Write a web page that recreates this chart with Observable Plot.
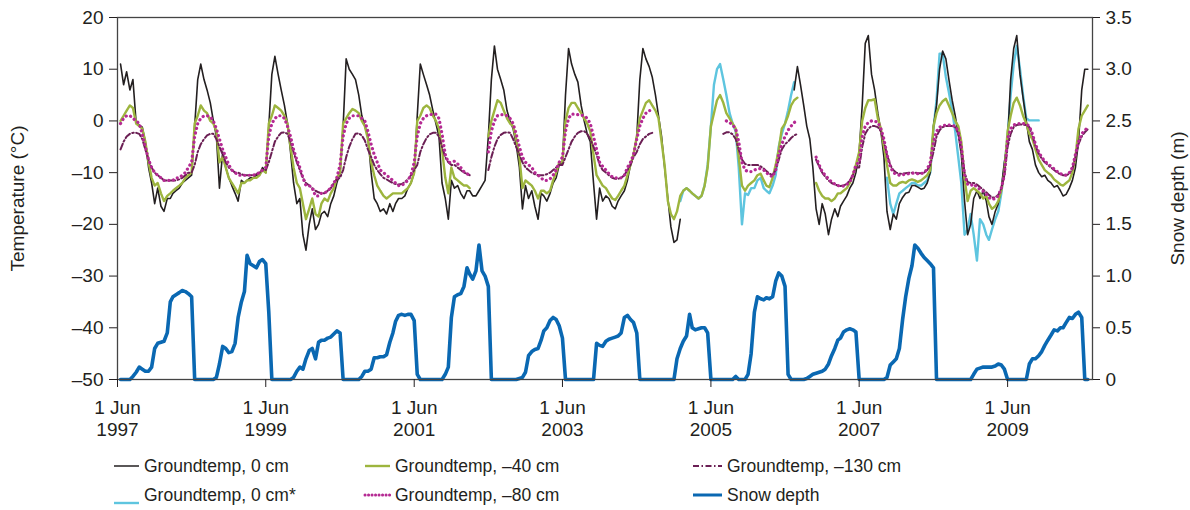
<!DOCTYPE html>
<html><head><meta charset="utf-8">
<script src="https://cdn.jsdelivr.net/npm/d3@7"></script>
<script src="https://cdn.jsdelivr.net/npm/@observablehq/plot@0.6"></script>
<style>
body{margin:0;background:#fff;font-family:"Liberation Sans",Arial,sans-serif;color:#231f20}
#wrap{position:relative;width:1190px;height:510px;overflow:hidden}
#legend{position:absolute;left:0;top:440px;width:1190px;height:70px}
</style></head><body><div id="wrap"><div id="chart"></div><div id="legend"></div></div>
<script>
const N = null;
const gap = n => Array(n).fill(null);

// Half-monthly samples (1st and 16th of each month), one row per season starting 1 Jun
const t0 = [
 /*1997*/ [N,11,7,9.5,6,8,-0.5,-0.8,-1.2,-4,-9,-12,-16,-13,-16.5,-17.5,-15,-15,-14,-13.5,-13,-12,-11.5,-11],
 /*1998*/ [-10.5,-1,8,11,8,6,3.5,0,-3,-13,-6,-9,-11,-12.5,-14,-15.5,-11.5,-12,-11.5,-11,-11,-10.5,-10.5,-9],
 /*1999*/ [-10,-1,9,12.5,9,6,3,-0.5,-6,-12,-16,-15,-22,-25,-20,-17,-21,-20,-18,-17.5,-18.5,-16,-14.5,-12],
 /*2000*/ [-10,-1,12,10,9,8,5,1,-1,-3,-10,-15,-16,-17.5,-17,-18,-16,-17.5,-16,-15,-15,-14.5,-13,-12],
 /*2001*/ [-10,1,11,9,7,5,2,-0.5,-3,-12,-15,-19,-11.5,-13,-12.5,-14,-15,-13.5,-13.5,-14.5,-14.5,-13.5,-12.5,-11.5],
 /*2002*/ [-3,8,14.5,10,8,6,2,0,-1.5,-4.5,-9,-17,-12.5,-15,-13.5,-16.5,-19,-14,-14.5,-15.5,-14,-12,-11,-8.5],
 /*2003*/ [-8,5,14,11,9,7.5,3,0,-2.5,-4,-12,-19,-13,-15.5,-14.5,-15,-16.5,-17,-15.5,-14.5,-13.5,-11.5,-8.5,-6.5],
 /*2004*/ [-3,8,14,12,10.5,8.5,5,1,-3,-9,-15,-20.5,-23.5,-23,-19,...gap(9)],
 /*2005*/ gap(24),
 /*2006*/ [N,N,N,6,10.5,7,3,-1,-3.5,-9,-17,-20,-16,-18,-22,-19,-17,-18.5,-16.5,-15.5,-14.5,-13,-12,-10],
 /*2007*/ [-6,3,15,16.5,9,6,1.5,-2,-7,-17.5,-21,-18,-19,-16,-14.8,-14,-13.8,-12.5,-12.5,-12.8,-13.2,-13,-12,-10],
 /*2008*/ [-1,3,10,13.5,12,8,4,1,-2.5,-6.5,-15.5,-22,-20,-15,-13.5,-15,-13.5,-15.5,-18.5,-20,-17.5,-16,-13,-8],
 /*2009*/ [-4,8,14,16.5,9,4.5,0,-4,-5.5,-8.5,-10,-10.8,-10.5,-11.5,-12,-12.8,-12.5,-13.5,-14.5,-14.2,-13,-11.5,-9,-4],
 /*2010*/ [6,10,10]
].flat();

const t0s = [
 ...gap(24*7),
 /*2004*/ [...gap(14),-15.5,-13.5,-13,-13.5,-14,-14.5,-15,-14.5,-12.5,-8.5],
 /*2005*/ [-1,7,10,11,8,5,1.5,-0.5,-2,-9,-20,-14,-14.3,-13,-13,-11.5,-11,-13,-13.5,-14,-12.5,-10.5,-5,-2.5],
 /*2006*/ [-0.5,2,5,7.5,...gap(20)],
 /*2007*/ [...gap(9),-11,-16,-18,-16,-14,-13.5,-13,-12.5,-12,-12,-12.5,-12.5,-12,-11.5,-10],
 /*2008*/ [-1.5,4,13,13,8.5,5.5,2,-2,-7,-12,-22,-21,-18,-22,-27,-19,-20,-22,-23,-21,-19,-17.5,-14,-9],
 /*2009*/ [-3,5,11,14.5,10,5,0.5,0.1,0.1,0.1,0.1,...gap(13)],
 /*2010*/ [N,N,N]
].flat();

const t40 = [
 /*1997*/ [N,0,1,2,3,2.5,-0.5,-1,-1.5,-4,-8,-11,-12.5,-12,-14,-15.5,-14.5,-14,-13.5,-13,-12.5,-12,-11,-10.5],
 /*1998*/ [-10,-0.5,1,3,2,1.5,0,-0.5,-2,-8,-7,-9,-11,-12,-13,-14,-12,-12,-11.5,-11.5,-11,-11,-10.5,-9.5],
 /*1999*/ [-10,-0.5,1,3,2.5,2,1,-0.5,-5,-9,-12,-13,-16,-19,-17,-15,-18,-18.5,-16,-15,-15.5,-14,-13,-11],
 /*2000*/ [-10,-0.5,0.5,1.5,2.3,2,1.5,0,-1,-3.5,-8,-10.5,-12.5,-13.5,-14.5,-15,-14.5,-14,-14,-14,-14,-13.5,-13,-12],
 /*2001*/ [-10,0,1,2.5,3,2.5,1,0,-1.5,-5.5,-11,-14,-9,-11,-11.5,-12,-12.5,-12.5,-13,...gap(5)],
 /*2002*/ [-3,0,2,4,3.5,2,0.5,-0.5,-1,-3.5,-7,-13,-11.5,-12,-12.5,-13.5,-15,-13.5,-13.5,-14,-13.5,-11.5,-10,-8],
 /*2003*/ [-8,0,2.5,3.5,3.5,2.5,1.5,0.5,-0.5,-2,-6.5,-10.5,-11.5,-12.5,-13,-14,-15,-15.3,-14.5,-13.5,-12.5,-10.5,-8.5,-6.5],
 /*2004*/ [-3,0.5,2,3.5,4,3,2,0.5,-4,-8.5,-15.5,-18,-19,-17.5,-14.5,-13.5,-13,-13.5,-14,-14.5,-15,-14.5,-12.5,-9],
 /*2005*/ [-1,1.5,4,5,3.5,1.5,0.5,-0.5,-1.5,-7,-12.5,-13.5,-12.5,-12,-11.5,-10.5,-10.2,-11.5,-12.5,-12.8,-11,-8.5,-5.5,-1.5],
 /*2006*/ [-0.5,1,3,4,4.5,...gap(5),-12,-13.5,-14.5,-15,-15,-15.5,-15,-14,-14,-13.5,-13,-12,-10.5,-8.5],
 /*2007*/ [-6,0,2.5,4,4,4.2,0.5,-1.5,-5,-8.5,-12,-12.5,-12.5,-12,-11.8,-12,-11.5,-11.3,-11.5,-11.8,-11.5,-11,-10.5,-9.5],
 /*2008*/ [-1,1.5,3,3.8,4.3,3,1.5,0,-1,-4,-11,-15.5,-13.5,-13,-13.5,-14,-15,-14.5,-16,-17,-16.5,-15.5,-13.5,-10],
 /*2009*/ [-2,1,3.5,4.5,3,1,-0.5,-2.5,-3.5,-5.5,-7.5,-8.5,-9.5,-10,-10.5,-11.3,-11.8,-12.3,-12.5,-12,-11.5,-10,-7,-1.5],
 /*2010*/ [1,2,3]
].flat();

const t80 = [
 /*1997*/ [N,-0.5,0.5,1,1,0.5,0,-0.5,-2.5,-5,-7.5,-9,-10,-10.5,-11,-11.5,-11.5,-11.5,-11.5,-11,-11,-10.5,-10,-9],
 /*1998*/ [-8,-3,-0.5,0.5,1,1,0.8,0,-1.5,-3.5,-5.5,-7,-8.5,-9.5,-10,-10.5,-10.5,-10.5,-10.5,-10.5,-10.5,-10.3,-10,-9.5],
 /*1999*/ [-9,-3,-0.5,0.5,1,1,0.5,-1,-3,-5.5,-7.5,-9,-11,-12.5,-12.5,-13,-14.5,-14.5,-14,-14,-13.5,-13,-12,-11],
 /*2000*/ [-8.5,-3,-0.5,0.5,1,1,1,0.5,0,-2,-4.5,-6.5,-8,-9.5,-10,-10.5,-11,-11.5,-12,-12.5,-12.5,-12,-11.5,-10.5],
 /*2001*/ [-8,-3,-0.5,0.5,1,1.2,1.3,1.3,0.5,-2.5,-6.5,-8,-8,-7.8,-8.3,-9,-9.8,-10.2,-10.5,...gap(5)],
 /*2002*/ [-6,-2,0,1,1.2,1.2,1,0.5,-0.5,-2.5,-5,-7,-8,-8.5,-9,-10,-10.5,-11,-11.5,-11.5,-11.2,-10.5,-9.5,-8],
 /*2003*/ [-7,-2,0.5,1.3,1.3,1.2,1.1,1,0.5,-0.5,-3,-5.5,-8,-8.8,-9.5,-10.2,-10.8,-11,-11,-11,-10.5,-9,-8,-6.5],
 /*2004*/ [-3.5,-1,0.5,1.5,2,2,...gap(18)],
 /*2005*/ [...gap(5),0,-0.3,-0.8,-1.5,-4,-8,-9.5,-9.8,-9.8,-9.5,-9.3,-9.2,-9.5,-10,-10.5,-10.8,-9.5,-6.5,-4.5],
 /*2006*/ [-3,-1.8,-1,-0.3,0,...gap(5),-7,-8.5,-9.8,-10.5,-11.2,-11.8,-12.2,-12.5,-12.6,-12.6,-12.3,-11.8,-10.5,-8.5],
 /*2007*/ [-8,-3,-1,-0.3,0,0,-0.3,-1.5,-3.5,-6.5,-8.8,-10,-10.3,-10.5,-10.4,-10.3,-10.2,-10.1,-10.1,-10.2,-10.2,-10,-9.3,-8],
 /*2008*/ [-4,-2,-1.2,-0.9,-0.8,-0.8,-0.9,-1,-2,-5,-10.5,-12.2,-12.5,-12.2,-12.8,-13.2,-13.6,-14.2,-14.8,-15.2,-15,-14.5,-13,-10.5],
 /*2009*/ [-3.5,-1.5,-0.8,-0.5,-0.5,-0.5,-0.6,-1,-2.5,-4.5,-6,-7,-7.8,-8.3,-8.8,-9.3,-9.8,-10.2,-10.4,-10.5,-10,-9,-6.5,-4],
 /*2010*/ [-2.5,-1.8,-1.3]
].flat();

const t130 = [
 /*1997*/ [N,-5.5,-4,-3,-2.5,-2.3,-2.3,-2.5,-3.5,-5.5,-7.5,-9,-10,-10.5,-11,-11.5,-11.5,-11.5,-11.5,-11.5,-11.3,-11,-10.5,-10],
 /*1998*/ [-10,-8.5,-6,-4.5,-3.5,-2.8,-2.5,-2.5,-3.5,-5,-6.5,-8,-9,-9.5,-10,-10,-10.3,-10.5,-10.5,-10.5,-10.5,-10.3,-10,-9.5],
 /*1999*/ [-9.5,-8,-6,-4,-3,-2.3,-2.2,-2.5,-4,-6,-8,-9.5,-11,-12,-12.5,-13,-13.5,-13.8,-14,-14,-13.5,-13,-12,-11.3],
 /*2000*/ [-11,-9.5,-7,-5,-3.5,-2.5,-2.4,-2.8,-3.8,-5.5,-7,-8.5,-9.5,-10.3,-11,-11.3,-11.7,-12,-12.2,-12.3,-12.2,-11.8,-11.3,-10.5],
 /*2001*/ [-9.5,-8.5,-6,-4.5,-3.3,-2.6,-2.3,-2.3,-3,-5,-7,-8,-8.5,-8.5,-9,-9.5,-10,-10.2,-10.5,...gap(5)],
 /*2002*/ [-9.5,-7,-5,-3.5,-2.7,-2.3,-2.2,-2.3,-3.5,-5,-6.5,-8,-9,-9.5,-10,-10.3,-10.5,-10.5,-10.5,-10.3,-10,-9.5,-9,-8.5],
 /*2003*/ [-8.5,-7,-5.5,-4,-3,-2.3,-2,-2,-2.5,-3.5,-5,-6.5,-8.5,-9.5,-10,-10.5,-11,-11.2,-11.2,-11,-10.5,-9.5,-8.5,-7],
 /*2004*/ [-6,-4.5,-3.5,-3,-2.5,-2.3,...gap(18)],
 /*2005*/ [...gap(4),-2.5,-2.2,-2.2,-2.6,-3.5,-5.5,-7.5,-8.3,-8.5,-8.5,-8.5,-8.5,-8.8,-9.2,-9.7,-10.2,-10.5,-9.5,-7.5,-5.5],
 /*2006*/ [-4.5,-4,-3.3,-2.8,-2.5,...gap(5),-7.5,-8.8,-10,-10.8,-11.5,-12,-12.3,-12.5,-12.6,-12.5,-12.2,-11.5,-10.5,-9],
 /*2007*/ [-9,-5,-2.5,-1.5,-1,-1,-1.2,-2,-4,-6.5,-8.5,-9.5,-10,-10.2,-10.2,-10.1,-10,-10,-10,-10.1,-10.1,-10,-9.5,-8.5],
 /*2008*/ [-6,-3,-1.8,-1.2,-1,-1,-1,-1.2,-2.5,-5.5,-10,-11.8,-12,-12,-12.3,-12.8,-13.3,-13.8,-14.3,-14.8,-14.8,-14.3,-13,-10.5],
 /*2009*/ [-5,-2.5,-1.2,-0.8,-0.7,-0.7,-0.8,-1.2,-2.8,-4.8,-6.3,-7.3,-8,-8.5,-9,-9.5,-10,-10.3,-10.5,-10.5,-10.2,-9.3,-7,-4.5],
 /*2010*/ [-3,-2.2,-1.6]
].flat();

// Snow depth (m)
const snow = [
 /*1997*/ [N,0,0,0,0,0.03,0.07,0.12,0.1,0.08,0.08,0.12,0.3,0.35,0.36,0.37,0.45,0.75,0.8,0.82,0.84,0.86,0.85,0.83],
 /*1998*/ [0.8,0,0,0,0,0,0,0,0.02,0.15,0.32,0.3,0.26,0.27,0.35,0.6,0.75,0.85,1.2,1.12,1.1,1.08,1.14,1.16],
 /*1999*/ [1.12,0.65,0,0,0,0,0,0,0,0.02,0.08,0.12,0.1,0.2,0.28,0.3,0.2,0.36,0.38,0.38,0.4,0.41,0.44,0.47],
 /*2000*/ [0.45,0,0,0,0,0,0,0.03,0.08,0.08,0.1,0.21,0.21,0.22,0.22,0.24,0.36,0.45,0.56,0.62,0.63,0.62,0.63,0.63],
 /*2001*/ [0.57,0.05,0,0,0,0,0,0,0,0,0.05,0.12,0.6,0.8,0.82,0.83,0.9,1.08,1.02,0.97,1.05,1.3,1.05,1.0],
 /*2002*/ [0.9,0,0,0,0,0,0,0,0,0,0.01,0.02,0.07,0.23,0.27,0.29,0.3,0.38,0.47,0.5,0.57,0.6,0.58,0.52],
 /*2003*/ [0.4,0,0,0,0,0,0,0,0,0,0,0.35,0.33,0.32,0.37,0.39,0.4,0.41,0.42,0.45,0.6,0.62,0.58,0.55],
 /*2004*/ [0.45,0,0,0,0,0,0,0,0,0,0,0,0,0.2,0.3,0.37,0.42,0.63,0.5,0.48,0.49,0.5,0.5,0.45],
 /*2005*/ [0,0,0,0,0,0,0,0,0.03,0,0,0,0.05,0.25,0.65,0.8,0.78,0.77,0.79,0.78,0.8,0.95,1.03,1.0],
 /*2006*/ [0.9,0.05,0,0,0,0,0,0.01,0.03,0.05,0.06,0.07,0.08,0.1,0.15,0.23,0.3,0.38,0.4,0.46,0.48,0.49,0.48,0.46],
 /*2007*/ [0,0,0,0,0,0,0,0,0,0.02,0.14,0.17,0.2,0.3,0.58,0.8,0.98,1.1,1.3,1.27,1.22,1.18,1.15,1.12],
 /*2008*/ [1.08,0,0,0,0,0,0,0,0,0,0,0,0,0.05,0.1,0.11,0.12,0.12,0.12,0.12,0.13,0.15,0.14,0.1],
 /*2009*/ [0,0,0,0,0,0,0,0.15,0.2,0.2,0.23,0.27,0.33,0.38,0.43,0.48,0.47,0.5,0.5,0.55,0.6,0.59,0.63,0.65],
 /*2010*/ [0.6,0,0]
].flat();

const tempTicks = [-50,-40,-30,-20,-10,0,10,20];
const snowTicks = [0,0.5,1,1.5,2,2.5,3,3.5];
const tickYears = [1997,1999,2001,2003,2005,2007,2009];

// sample dates: 1st and 16th of each month from 1 Jun 1997
const dates = t0.map((_, i) => {
  const k = Math.floor(i / 24), h = i % 24, m = 5 + Math.floor(h / 2);
  return new Date(Date.UTC(1997 + k + Math.floor(m / 12), m % 12, h % 2 ? 16 : 1));
});

// snow depth shares the temperature axis: 0–3.5 m ↔ −50–20 °C
const snowToY = s => -50 + s * 20;

const series = [
  {key:"t0s", label:"Groundtemp, 0 cm*", values:t0s, stroke:"#5ec5df", strokeWidth:2.4},
  {key:"t0", label:"Groundtemp, 0 cm", values:t0, stroke:"#231f20", strokeWidth:1.6},
  {key:"t40", label:"Groundtemp, \u201340 cm", values:t40, stroke:"#9db53e", strokeWidth:2.4},
  {key:"t130", label:"Groundtemp, \u2013130 cm", values:t130, stroke:"#6b1f54", strokeWidth:2, dash:"6,2.5,1.5,2.5"},
  {key:"t80", label:"Groundtemp, \u201380 cm", values:t80, stroke:"#b52a93", strokeWidth:3.2, dash:"0.1,4.6", cap:"round"},
  {key:"snow", label:"Snow depth", values:snow.map(s => s == null ? null : snowToY(s)), stroke:"#0a68b2", strokeWidth:3.6}
];
const byKey = Object.fromEntries(series.map(s => [s.key, s]));

const rowsOf = s => dates.map((d, i) => ({date: d, v: s.values[i] == null ? NaN : s.values[i]}));

const fmtT = d => d < 0 ? "\u2013" + (-d) : String(d);
const fmtS = t => { const s = Math.round((t + 50) / 20 * 10) / 10; return s === 0 ? "0" : s.toFixed(1); };

const chart = Plot.plot({
  width: 1190, height: 440,
  marginLeft: 117, marginRight: 98, marginTop: 17, marginBottom: 61,
  style: {fontFamily: '"Liberation Sans", Arial, sans-serif', fontSize: "19px", color: "#231f20", background: "#fff"},
  x: {type: "utc", domain: [new Date(Date.UTC(1997,5,1)), new Date(Date.UTC(2010,6,24))]},
  y: {domain: [-50, 20]},
  marks: [
    ...series.map(s => Plot.line(rowsOf(s), {
      x: "date", y: "v", stroke: s.stroke, strokeWidth: s.strokeWidth,
      strokeDasharray: s.dash, strokeLinecap: s.cap, strokeLinejoin: "round"
    })),
    Plot.frame({stroke: "#444", strokeWidth: 1.3}),
    Plot.axisY({anchor: "left", ticks: tempTicks, tickSize: 8, tickPadding: 6, tickFormat: fmtT,
      label: "Temperature (\u00b0C)", labelAnchor: "center", labelArrow: "none", labelOffset: 107}),
    Plot.axisY({anchor: "right", ticks: snowTicks.map(snowToY), tickSize: 7, tickPadding: 6, tickFormat: fmtS,
      label: "Snow depth (m)", labelAnchor: "center", labelArrow: "none", labelOffset: 91}),
    Plot.axisX({ticks: tickYears.map(y => new Date(Date.UTC(y,5,1))), tickSize: 8, tickPadding: 10,
      tickFormat: d => `1 Jun\n${d.getUTCFullYear()}`, label: null, lineHeight: 1.2})
  ]
});
document.getElementById("chart").appendChild(chart);

// legend
const legendLayout = [
  {key:"t0",   x:114, len:25, tx:144, y:26, dy:0},
  {key:"t0s",  x:114, len:25, tx:144, y:55, dy:8},
  {key:"t40",  x:365, len:25, tx:395, y:26, dy:0},
  {key:"t80",  x:365, len:26, tx:395, y:55, dy:0},
  {key:"t130", x:693, len:29, tx:727, y:26, dy:0},
  {key:"snow", x:693, len:29, tx:727, y:55, dy:0}
];
const leg = d3.select("#legend").append("svg").attr("width", 1190).attr("height", 70)
  .style("font-family", '"Liberation Sans", Arial, sans-serif').style("font-size", "17.5px");
for (const L of legendLayout) {
  const s = byKey[L.key];
  leg.append("line").attr("x1", L.x).attr("x2", L.x + L.len).attr("y1", L.y + L.dy).attr("y2", L.y + L.dy)
    .attr("stroke", s.stroke).attr("stroke-width", s.key === "t0" ? 1.5 : Math.min(s.strokeWidth, 3))
    .attr("stroke-dasharray", s.key === "t80" ? "0.1,3.4" : (s.dash || null))
    .attr("stroke-linecap", s.cap || "butt");
  leg.append("text").attr("x", L.tx).attr("y", L.y).attr("dominant-baseline", "central")
    .attr("fill", "#231f20").text(s.label);
}
</script></body></html>
